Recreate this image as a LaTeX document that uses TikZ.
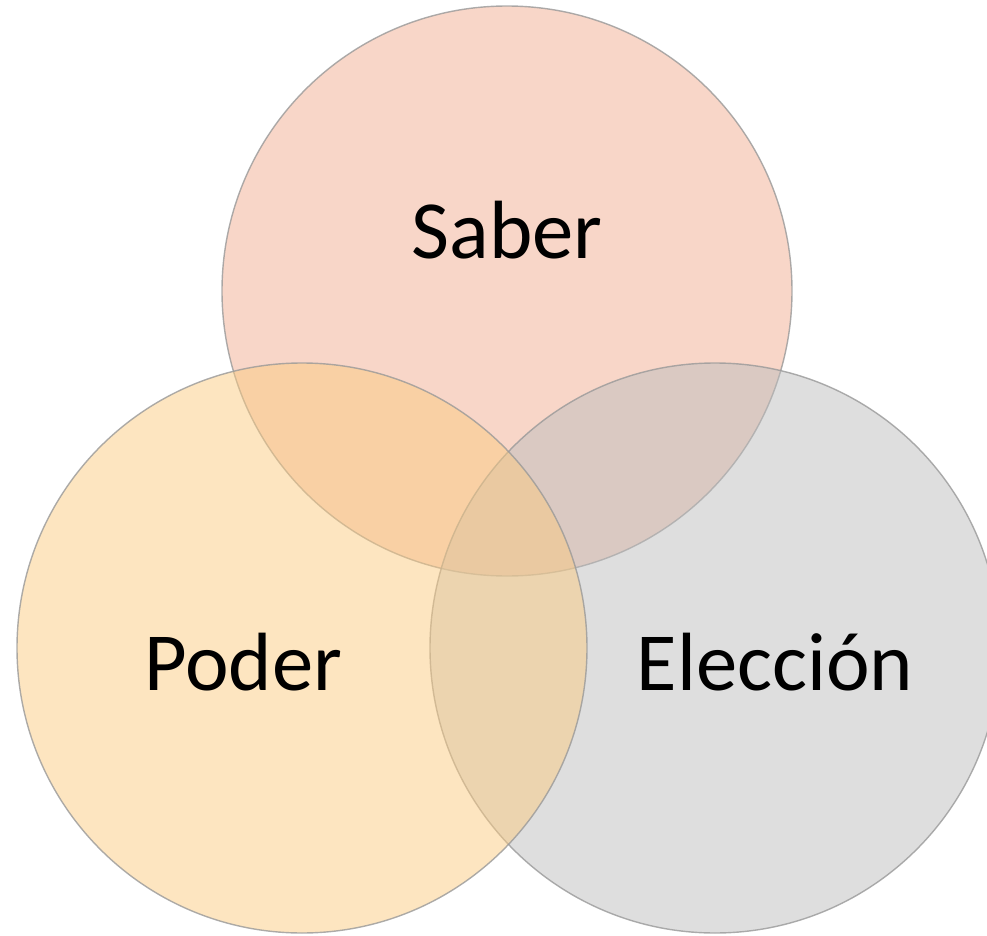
\documentclass[tikz,border=0pt]{standalone}
\usepackage{fontspec}
\setmainfont{Carlito}
\usepackage{tikz}
\usetikzlibrary{positioning}

\definecolor{saberfill}{RGB}{241,173,145}
\definecolor{poderfill}{RGB}{251,203,129}
\definecolor{eleccionfill}{RGB}{189,189,189}

\tikzset{
	setcircle/.style={draw=gray!80, line width=0.4pt, fill opacity=0.5, draw opacity=0.8},
	setlabel/.style={anchor=base, font=\fontsize{23.5}{28}\selectfont}
}

\begin{document}
\begin{tikzpicture}[x=0.01cm, y=0.01cm]
		\useasboundingbox (0,0) rectangle (987,935);
		\clip (0,0) rectangle (987,935);
		% Draw the three sets
		\draw[setcircle, fill=saberfill] (507,644) circle (285);
		\draw[setcircle, fill=eleccionfill] (715,287) circle (285);
		\draw[setcircle, fill=poderfill] (302,287) circle (285);
		
		% Labels for sets
		\node[setlabel] (saber) at (507,677) {Saber};
		\node[setlabel] (poder) at (243,245) {Poder};
		\node[setlabel] (eleccion) at (775,245) {Elección};
\end{tikzpicture}
\end{document}
